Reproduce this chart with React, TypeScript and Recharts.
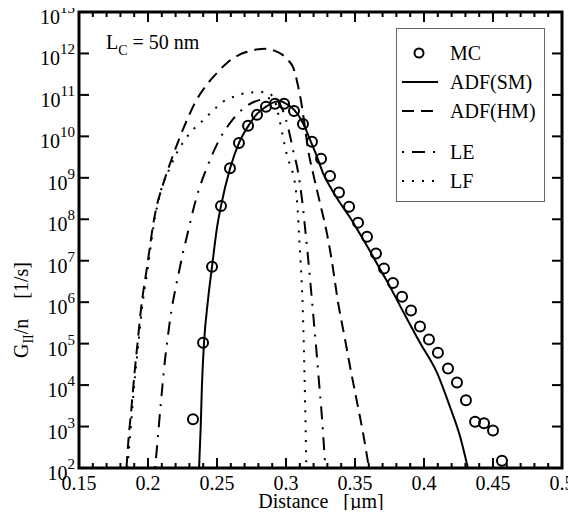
import React from 'react';
import { ComposedChart, Line, Scatter, XAxis, YAxis, ReferenceArea, Legend } from 'recharts';

// Monte Carlo points (distance in um, G_II/n in 1/s)
const mcX = [0.2326, 0.2399, 0.2464, 0.2529, 0.2594, 0.2659, 0.2725, 0.279, 0.2855, 0.292, 0.2986, 0.3058, 0.3123, 0.3188, 0.3254, 0.3319, 0.3384, 0.3457, 0.3522, 0.3587, 0.3652, 0.371, 0.3775, 0.3841, 0.3906, 0.3971, 0.4036, 0.4101, 0.4174, 0.4239, 0.4304, 0.437, 0.4435, 0.45, 0.4565];
const mcY = [1.5e3, 1.05e5, 7.2e6, 2.1e8, 1.7e9, 6.9e9, 1.8e10, 3.3e10, 5.2e10, 6.1e10, 6.1e10, 4.1e10, 2.0e10, 7.4e9, 2.9e9, 1.1e9, 4.4e8, 2.0e8, 8.3e7, 3.8e7, 1.5e7, 6.5e6, 2.9e6, 1.35e6, 6.3e5, 2.6e5, 1.26e5, 6.0e4, 2.5e4, 1.15e4, 4.3e3, 1.3e3, 1.2e3, 8.0e2, 1.5e2];

// ADF(SM)
const smX = [0.237, 0.2382, 0.2391, 0.2406, 0.2435, 0.2464, 0.25, 0.2529, 0.2594, 0.2659, 0.2725, 0.279, 0.2855, 0.292, 0.2957, 0.2986, 0.3058, 0.3123, 0.3174, 0.3225, 0.3268, 0.3333, 0.3391, 0.3464, 0.3536, 0.3609, 0.3681, 0.3732, 0.3848, 0.3971, 0.4094, 0.4188, 0.4261, 0.4318];
const smY = [1e2, 1e3, 1.0e4, 1.05e5, 1.15e6, 7.2e6, 6.3e7, 2.1e8, 1.66e9, 6.9e9, 1.74e10, 3.5e10, 5.2e10, 6.8e10, 7.1e10, 6.5e10, 4.4e10, 2.1e10, 8.3e9, 3.2e9, 1.3e9, 5.1e8, 2.5e8, 1.1e8, 4.4e7, 1.7e7, 6.3e6, 3.2e6, 6.0e5, 1.05e5, 2.0e4, 3.0e3, 5.8e2, 1e2];

// ADF(HM)
const hmX = [0.1844, 0.186, 0.188, 0.19, 0.1925, 0.195, 0.1993, 0.2014, 0.2036, 0.2065, 0.21, 0.2145, 0.2174, 0.2232, 0.2283, 0.2341, 0.2413, 0.25, 0.2572, 0.265, 0.2717, 0.28, 0.2848, 0.292, 0.2978, 0.302, 0.3051, 0.3087, 0.3116, 0.3138, 0.3159, 0.3196, 0.3246, 0.3297, 0.333, 0.3377, 0.3428, 0.3464, 0.3514, 0.3558, 0.3601];
const hmY = [1e2, 5.6e2, 2.8e3, 1.6e4, 1.1e5, 7.1e5, 7.1e6, 2.2e7, 7.1e7, 2.2e8, 5.6e8, 1.6e9, 3.0e9, 9.8e9, 2.5e10, 6.5e10, 1.55e11, 3.4e11, 5.9e11, 8.9e11, 1.1e12, 1.26e12, 1.29e12, 1.15e12, 9.1e11, 6.6e11, 4.7e11, 1.66e11, 5.1e10, 1.6e10, 5.0e9, 1.3e9, 2.5e8, 4.5e7, 1.1e7, 1e6, 1.26e5, 2.8e4, 4.0e3, 7.1e2, 1e2];

// LE
const leX = [0.2051, 0.2072, 0.2087, 0.2101, 0.2123, 0.2145, 0.217, 0.22, 0.2232, 0.2254, 0.2283, 0.2304, 0.2341, 0.2377, 0.2428, 0.2471, 0.2522, 0.258, 0.2616, 0.2717, 0.2812, 0.2884, 0.2935, 0.2978, 0.302, 0.3051, 0.3087, 0.3116, 0.3138, 0.3159, 0.318, 0.32, 0.322, 0.324, 0.3261, 0.3285];
const leY = [1e2, 5.6e2, 2.2e3, 7.1e3, 4.0e4, 1.6e5, 6.3e5, 2.2e6, 7.1e6, 1.6e7, 4.0e7, 7.9e7, 2.5e8, 6.3e8, 1.8e9, 4.0e9, 8.9e9, 1.8e10, 2.6e10, 5.5e10, 7.6e10, 8.3e10, 7.2e10, 4.2e10, 1.4e10, 4.7e9, 1.4e9, 3.0e8, 6.3e7, 1.26e7, 2.2e6, 4.0e5, 7.1e4, 1.1e4, 1.6e3, 1e2];

// LF
const lfX = [0.1851, 0.1877, 0.1899, 0.1928, 0.1957, 0.2, 0.2043, 0.2094, 0.2152, 0.2196, 0.2254, 0.2326, 0.2391, 0.2471, 0.2543, 0.2616, 0.2717, 0.2812, 0.287, 0.292, 0.295, 0.298, 0.301, 0.305, 0.307, 0.3085, 0.3095, 0.3105, 0.3115, 0.3122, 0.3128, 0.3133, 0.3138, 0.3143, 0.3147];
const lfY = [1e2, 1.1e3, 9.1e3, 8.5e4, 7.4e5, 7.1e6, 7.9e7, 5.0e8, 1.55e9, 3.3e9, 7.1e9, 1.45e10, 2.3e10, 4.2e10, 6.8e10, 8.9e10, 1.12e11, 1.17e11, 1.12e11, 7.1e10, 2.8e10, 8.9e9, 3.2e9, 1.26e9, 5.6e8, 1.6e8, 4.0e7, 1e7, 2.5e6, 6.3e5, 1.26e5, 2.5e4, 4.5e3, 7.1e2, 1e2];

const xMajorLabels = ['0.15', '0.2', '0.25', '0.3', '0.35', '0.4', '0.45', '0.5'];
const xTicks = Array.from({ length: 36 }, (_, i) => Math.round((0.15 + i * 0.01) * 100) / 100);
const yTicks = [1e2, 1e3, 1e4, 1e5, 1e6, 1e7, 1e8, 1e9, 1e10, 1e11, 1e12, 1e13];
const legendNames = ['MC', 'ADF(SM)', 'ADF(HM)', 'LE', 'LF'];

const zip = (xs: number[], ys: number[]) => xs.map((x, i) => ({ x, y: ys[i] }));
const mcData = zip(mcX, mcY);
const smData = zip(smX, smY);
const hmData = zip(hmX, hmY);
const leData = zip(leX, leY);
const lfData = zip(lfX, lfY);

const FONT = "'Liberation Serif', 'Times New Roman', serif";
const W = 576;
const H = 518;
const PLOT_L = 79;
const PLOT_R = 562;
const PLOT_T = 12;

const dashes: Record<string, string | undefined> = {
  'ADF(SM)': undefined,
  'ADF(HM)': '12 7',
  LE: '2 8 13 8',
  LF: '2 8',
};
const legendRowY = [25, 54, 83, 124, 153];

const XTick = (props: any) => {
  const { x, y, payload } = props;
  const v = payload.value;
  const k = Math.round((v - 0.15) * 20);
  const major = Math.abs(v - (0.15 + k * 0.05)) < 1e-6;
  const len = major ? 10 : 5;
  return (
    <g>
      <line x1={x} x2={x} y1={y} y2={y - len} stroke="#000" strokeWidth={2} />
      <line x1={x} x2={x} y1={PLOT_T} y2={PLOT_T + len} stroke="#000" strokeWidth={2} />
      {major && (
        <text x={x} y={y + 22} textAnchor="middle" style={{ fontFamily: FONT, fontSize: 20 }} fill="#000">
          {xMajorLabels[k]}
        </text>
      )}
    </g>
  );
};

const YTick = (props: any) => {
  const { y, payload } = props;
  const exp = Math.round(Math.log10(payload.value));
  return (
    <g>
      <line x1={PLOT_L} x2={PLOT_L + 10} y1={y} y2={y} stroke="#000" strokeWidth={2} />
      <line x1={PLOT_R} x2={PLOT_R - 10} y1={y} y2={y} stroke="#000" strokeWidth={2} />
      <text x={PLOT_L - 4} y={y + 12} textAnchor="end" style={{ fontFamily: FONT, fontSize: 20 }} fill="#000">
        10
        <tspan dy={-11} style={{ fontSize: 15 }}>
          {exp}
        </tspan>
      </text>
    </g>
  );
};

const LegendBox = () => (
  <svg width={149} height={174} style={{ display: 'block' }}>
    <rect x={0.5} y={0.5} width={148} height={173} fill="#fff" stroke="#666" strokeWidth={1} />
    {legendNames.map((name, i) => {
      const cy = legendRowY[i];
      return (
        <g key={name}>
          {name === 'MC' ? (
            <circle cx={23} cy={cy} r={4.5} fill="none" stroke="#000" strokeWidth={2} />
          ) : (
            <line x1={6} x2={42} y1={cy} y2={cy} stroke="#000" strokeWidth={2} strokeDasharray={dashes[name]} />
          )}
          <text x={54} y={cy + 7} style={{ fontFamily: FONT, fontSize: 20 }} fill="#000">
            {name}
          </text>
        </g>
      );
    })}
  </svg>
);

export default function App() {
  return (
    <div style={{ position: 'relative', width: W, height: H, margin: -8, fontFamily: FONT }}>
      <ComposedChart width={W} height={H} margin={{ top: PLOT_T, right: W - PLOT_R, bottom: 0, left: 0 }}>
        <XAxis
          type="number"
          dataKey="x"
          domain={[0.15, 0.5]}
          ticks={xTicks}
          interval={0}
          allowDataOverflow
          height={50}
          axisLine={false}
          tickLine={false}
          tickSize={0}
          tickMargin={0}
          tick={<XTick />}
        />
        <YAxis
          type="number"
          scale="log"
          domain={[1e2, 1e13]}
          ticks={yTicks}
          interval={0}
          allowDataOverflow
          width={PLOT_L}
          axisLine={false}
          tickLine={false}
          tickSize={0}
          tickMargin={0}
          tick={<YTick />}
        />
        <Legend
          layout="vertical"
          align="center"
          verticalAlign="middle"
          content={<LegendBox />}
          wrapperStyle={{ position: 'absolute', left: 396, top: 28, width: 149, height: 174 }}
        />
        <Line data={smData} dataKey="y" name="ADF(SM)" type="monotone" dot={false} stroke="#000" strokeWidth={2} isAnimationActive={false} />
        <Line data={hmData} dataKey="y" name="ADF(HM)" type="monotone" dot={false} stroke="#000" strokeWidth={2} strokeDasharray={dashes['ADF(HM)']} isAnimationActive={false} />
        <Line data={leData} dataKey="y" name="LE" type="monotone" dot={false} stroke="#000" strokeWidth={2} strokeDasharray={dashes.LE} isAnimationActive={false} />
        <Line data={lfData} dataKey="y" name="LF" type="monotone" dot={false} stroke="#000" strokeWidth={2} strokeDasharray={dashes.LF} isAnimationActive={false} />
        <Scatter
          data={mcData}
          dataKey="y"
          name="MC"
          isAnimationActive={false}
          shape={(p: any) => <circle cx={p.cx} cy={p.cy} r={5} fill="none" stroke="#000" strokeWidth={2} />}
        />
        <ReferenceArea x1={0.15} x2={0.5} y1={1e2} y2={1e13} fill="none" stroke="#000" strokeWidth={3} ifOverflow="visible" />
      </ComposedChart>
      <svg width={W} height={H} style={{ position: 'absolute', left: 0, top: 0, pointerEvents: 'none' }}>
        <text x={106} y={49} style={{ fontFamily: FONT, fontSize: 20 }} fill="#000">
          L<tspan dy={6} style={{ fontSize: 14 }}>C</tspan>
          <tspan dy={-6}> = 50 nm</tspan>
        </text>
        <text x={321} y={508} textAnchor="middle" style={{ fontFamily: FONT, fontSize: 20, whiteSpace: 'pre' }} fill="#000">
          {'Distance   [\u00b5m]'}
        </text>
        <text transform="translate(28,310) rotate(-90)" textAnchor="middle" style={{ fontFamily: FONT, fontSize: 20, whiteSpace: 'pre' }} fill="#000">
          G<tspan dy={5} style={{ fontSize: 14 }}>II</tspan>
          <tspan dy={-5}>{'/n    [1/s]'}</tspan>
        </text>
      </svg>
    </div>
  );
}
